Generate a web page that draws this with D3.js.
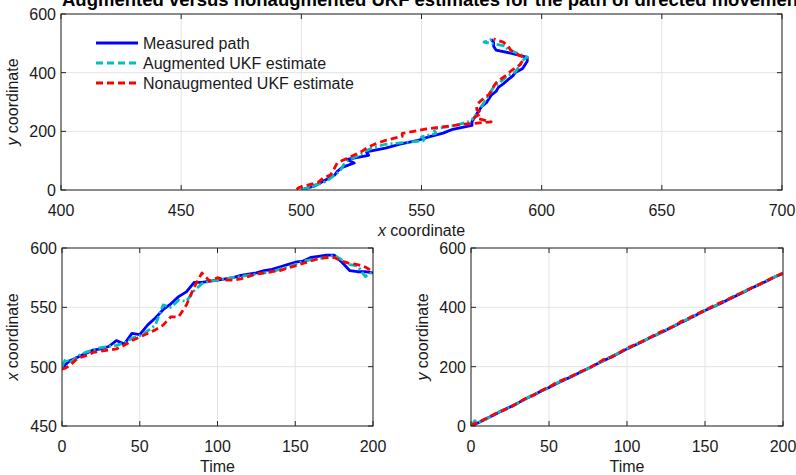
<!DOCTYPE html>
<html>
<head>
<meta charset="utf-8">
<script src="https://cdn.jsdelivr.net/npm/d3@7"></script>
<style>
  body { margin: 0; background: #fff; }
  svg { display: block; font-family: "Liberation Sans", Arial, sans-serif; }
  .grid line { stroke: #e3e3e3; stroke-width: 1; }
  .frame { fill: none; stroke: #262626; stroke-width: 1; }
  .tick-lbl { font-size: 16px; fill: #1a1a1a; }
  .ax-lbl { font-size: 16px; fill: #1a1a1a; }
</style>
</head>
<body>
<svg id="chart" width="796" height="475"></svg>
<script>
// time steps
const timeSteps = [0, 2.5, 5, 10, 15, 20, 25, 30, 35, 40, 45, 50, 55, 60, 65, 70, 75, 80, 85, 90, 95,
    100, 105, 110, 115, 120, 125, 130, 135, 140, 145, 150, 155, 160, 165, 170, 175, 180, 185, 190, 195, 200];

// measured path
const measuredX = [500, 502, 505, 508, 511, 514, 515, 517, 522, 519, 528, 527, 535, 541, 548, 553, 559, 563, 571, 571, 572,
    573, 574, 575, 577, 578, 579, 581, 582, 584, 586, 588, 589, 592, 593, 594, 594, 588, 581, 580, 580, 579];
const measuredY = [0, 6, 12, 25, 38, 52, 64, 77, 92, 104, 118, 130, 143, 156, 168, 181, 194, 207, 220, 233, 246,
    260, 272, 285, 298, 310, 323, 336, 350, 362, 376, 389, 401, 413, 426, 439, 452, 465, 477, 490, 503, 514];

// augmented UKF estimate
const augX = [500, 507, 503, 509, 512, 514, 516, 517, 518, 520, 524, 526, 530, 535, 552, 550, 556, 555, 564, 570, 572,
    573, 574, 575, 576, 577, 578, 579, 580, 582, 584, 586, 589, 590, 591, 592, 594, 590, 586, 585, 576, 580];
const augY = [0, 18, 12, 24, 39, 53, 63, 77, 92, 105, 118, 130, 145, 156, 169, 181, 193, 208, 220, 234, 247,
    261, 273, 286, 298, 311, 324, 338, 350, 363, 377, 390, 402, 414, 428, 442, 453, 466, 478, 491, 504, 516];

// nonaugmented UKF estimate
const nonaugX = [498, 499, 501, 507, 509, 512, 513, 514, 515, 518, 522, 525, 528, 531, 535, 542, 542, 552, 567, 579, 572,
    575, 573, 573, 574, 576, 578, 579, 580, 581, 583, 585, 587, 589, 591, 592, 592, 589, 587, 586, 584, 580];
const nonaugY = [2, 8, 13, 26, 40, 51, 62, 78, 93, 104, 119, 131, 147, 158, 169, 183, 193, 208, 224, 232, 247,
    262, 274, 286, 299, 313, 325, 336, 353, 365, 378, 390, 404, 416, 427, 440, 454, 466, 478, 491, 504, 515];

const seriesNames = ["Measured path", "Augmented UKF estimate", "Nonaugmented UKF estimate"];
const seriesColors = ["#0000ff", "#00bfbf", "#ff0000"];
const seriesDash = [null, "8,3,2,3", "7,4"];

// tick labels
const pathXTicks = [400, 450, 500, 550, 600, 650, 700];
const pathYTicks = [0, 200, 400, 600];
const timeTicks = [0, 50, 100, 150, 200];
const xCoordTicks = [450, 500, 550, 600];
const yCoordTicks = [0, 200, 400, 600];

const svg = d3.select("#chart");

// generic panel: frame, grid, inward ticks, labels
function panel(box, xDom, yDom, xTicks, yTicks, xLabel, yLabel) {
    let x = d3.scaleLinear().domain(xDom).range([box.l, box.r]);
    let y = d3.scaleLinear().domain(yDom).range([box.b, box.t]);
    let g = svg.append("g");

    let grid = g.append("g").attr("class", "grid");
    grid.selectAll(".gx").data(xTicks).enter().append("line")
        .attr("x1", d => x(d)).attr("x2", d => x(d))
        .attr("y1", box.t).attr("y2", box.b);
    grid.selectAll(".gy").data(yTicks).enter().append("line")
        .attr("y1", d => y(d)).attr("y2", d => y(d))
        .attr("x1", box.l).attr("x2", box.r);

    let tl = 5; // tick length
    let ticks = g.append("g").attr("stroke", "#262626");
    xTicks.forEach(d => {
        ticks.append("line").attr("x1", x(d)).attr("x2", x(d)).attr("y1", box.b).attr("y2", box.b - tl);
        ticks.append("line").attr("x1", x(d)).attr("x2", x(d)).attr("y1", box.t).attr("y2", box.t + tl);
    });
    yTicks.forEach(d => {
        ticks.append("line").attr("y1", y(d)).attr("y2", y(d)).attr("x1", box.l).attr("x2", box.l + tl);
        ticks.append("line").attr("y1", y(d)).attr("y2", y(d)).attr("x1", box.r).attr("x2", box.r - tl);
    });

    g.selectAll(".xl").data(xTicks).enter().append("text")
        .attr("class", "tick-lbl")
        .attr("x", d => x(d)).attr("y", box.b + 26)
        .attr("text-anchor", "middle")
        .text(d => d);
    g.selectAll(".yl").data(yTicks).enter().append("text")
        .attr("class", "tick-lbl")
        .attr("x", box.l - 5).attr("y", d => y(d) + 6)
        .attr("text-anchor", "end")
        .text(d => d);

    // axis titles (x/y italic like the original)
    function axisTitle(t, label) {
        let parts = label.split(" ");
        if (parts.length > 1 && (parts[0] === "x" || parts[0] === "y")) {
            t.append("tspan").style("font-style", "italic").text(parts[0]);
            t.append("tspan").text(" " + parts.slice(1).join(" "));
        } else {
            t.text(label);
        }
    }
    axisTitle(g.append("text").attr("class", "ax-lbl")
        .attr("x", (box.l + box.r) / 2).attr("y", box.b + 46)
        .attr("text-anchor", "middle"), xLabel);
    axisTitle(g.append("text").attr("class", "ax-lbl")
        .attr("transform", "translate(" + box.yl + "," + (box.t + box.b) / 2 + ") rotate(-90)")
        .attr("text-anchor", "middle"), yLabel);

    return { g: g, x: x, y: y, box: box };
}

function drawLines(p, xs, ys) {
    let clipId = "clip" + Math.round(p.box.l) + "_" + Math.round(p.box.t);
    svg.append("defs").append("clipPath").attr("id", clipId)
        .append("rect")
        .attr("x", p.box.l).attr("y", p.box.t)
        .attr("width", p.box.r - p.box.l).attr("height", p.box.b - p.box.t);
    let lg = p.g.append("g").attr("clip-path", "url(#" + clipId + ")");
    xs.forEach((xv, k) => {
        let line = d3.line()
            .x((d, i) => p.x(xv[i]))
            .y((d, i) => p.y(ys[k][i]));
        lg.append("path")
            .datum(xv)
            .attr("d", line)
            .attr("fill", "none")
            .attr("stroke", seriesColors[k])
            .attr("stroke-width", 2.8)
            .attr("stroke-linejoin", "round")
            .attr("stroke-dasharray", seriesDash[k]);
    });
}

function frame(p) {
    p.g.append("rect").attr("class", "frame")
        .attr("x", p.box.l).attr("y", p.box.t)
        .attr("width", p.box.r - p.box.l).attr("height", p.box.b - p.box.t);
}

// top: path in the plane
let pathPanel = panel({ l: 61, r: 782, t: 14, b: 190, yl: 18 }, [400, 700], [0, 600],
    pathXTicks, pathYTicks, "x coordinate", "y coordinate");
drawLines(pathPanel, [measuredX, augX, nonaugX], [measuredY, augY, nonaugY]);
frame(pathPanel);

// legend
let leg = pathPanel.g.append("g");
seriesNames.forEach((name, k) => {
    let ly = 43 + k * 20;
    leg.append("line")
        .attr("x1", 96).attr("x2", 138).attr("y1", ly).attr("y2", ly)
        .attr("stroke", seriesColors[k]).attr("stroke-width", 2.8)
        .attr("stroke-dasharray", seriesDash[k] ? "7,4" : null);
    leg.append("text").attr("class", "ax-lbl")
        .attr("x", 143).attr("y", ly + 6)
        .text(name);
});

// bottom left: x over time
let timeXPanel = panel({ l: 62, r: 373, t: 248, b: 426, yl: 18 }, [0, 200], [450, 600],
    timeTicks, xCoordTicks, "Time", "x coordinate");
drawLines(timeXPanel, [timeSteps, timeSteps, timeSteps], [measuredX, augX, nonaugX]);
frame(timeXPanel);

// bottom right: y over time
let timeYPanel = panel({ l: 471, r: 783, t: 248, b: 426, yl: 428 }, [0, 200], [0, 600],
    timeTicks, yCoordTicks, "Time", "y coordinate");
drawLines(timeYPanel, [timeSteps, timeSteps, timeSteps], [measuredY, augY, nonaugY]);
frame(timeYPanel);

// title, clipped by the top edge as in the original
svg.append("text")
    .attr("x", 62).attr("y", 6)
    .style("font-size", "18.5px").style("font-weight", "bold")
    .attr("fill", "#000")
    .text("Augmented versus nonaugmented UKF estimates for the path of directed movement");
</script>
</body>
</html>
